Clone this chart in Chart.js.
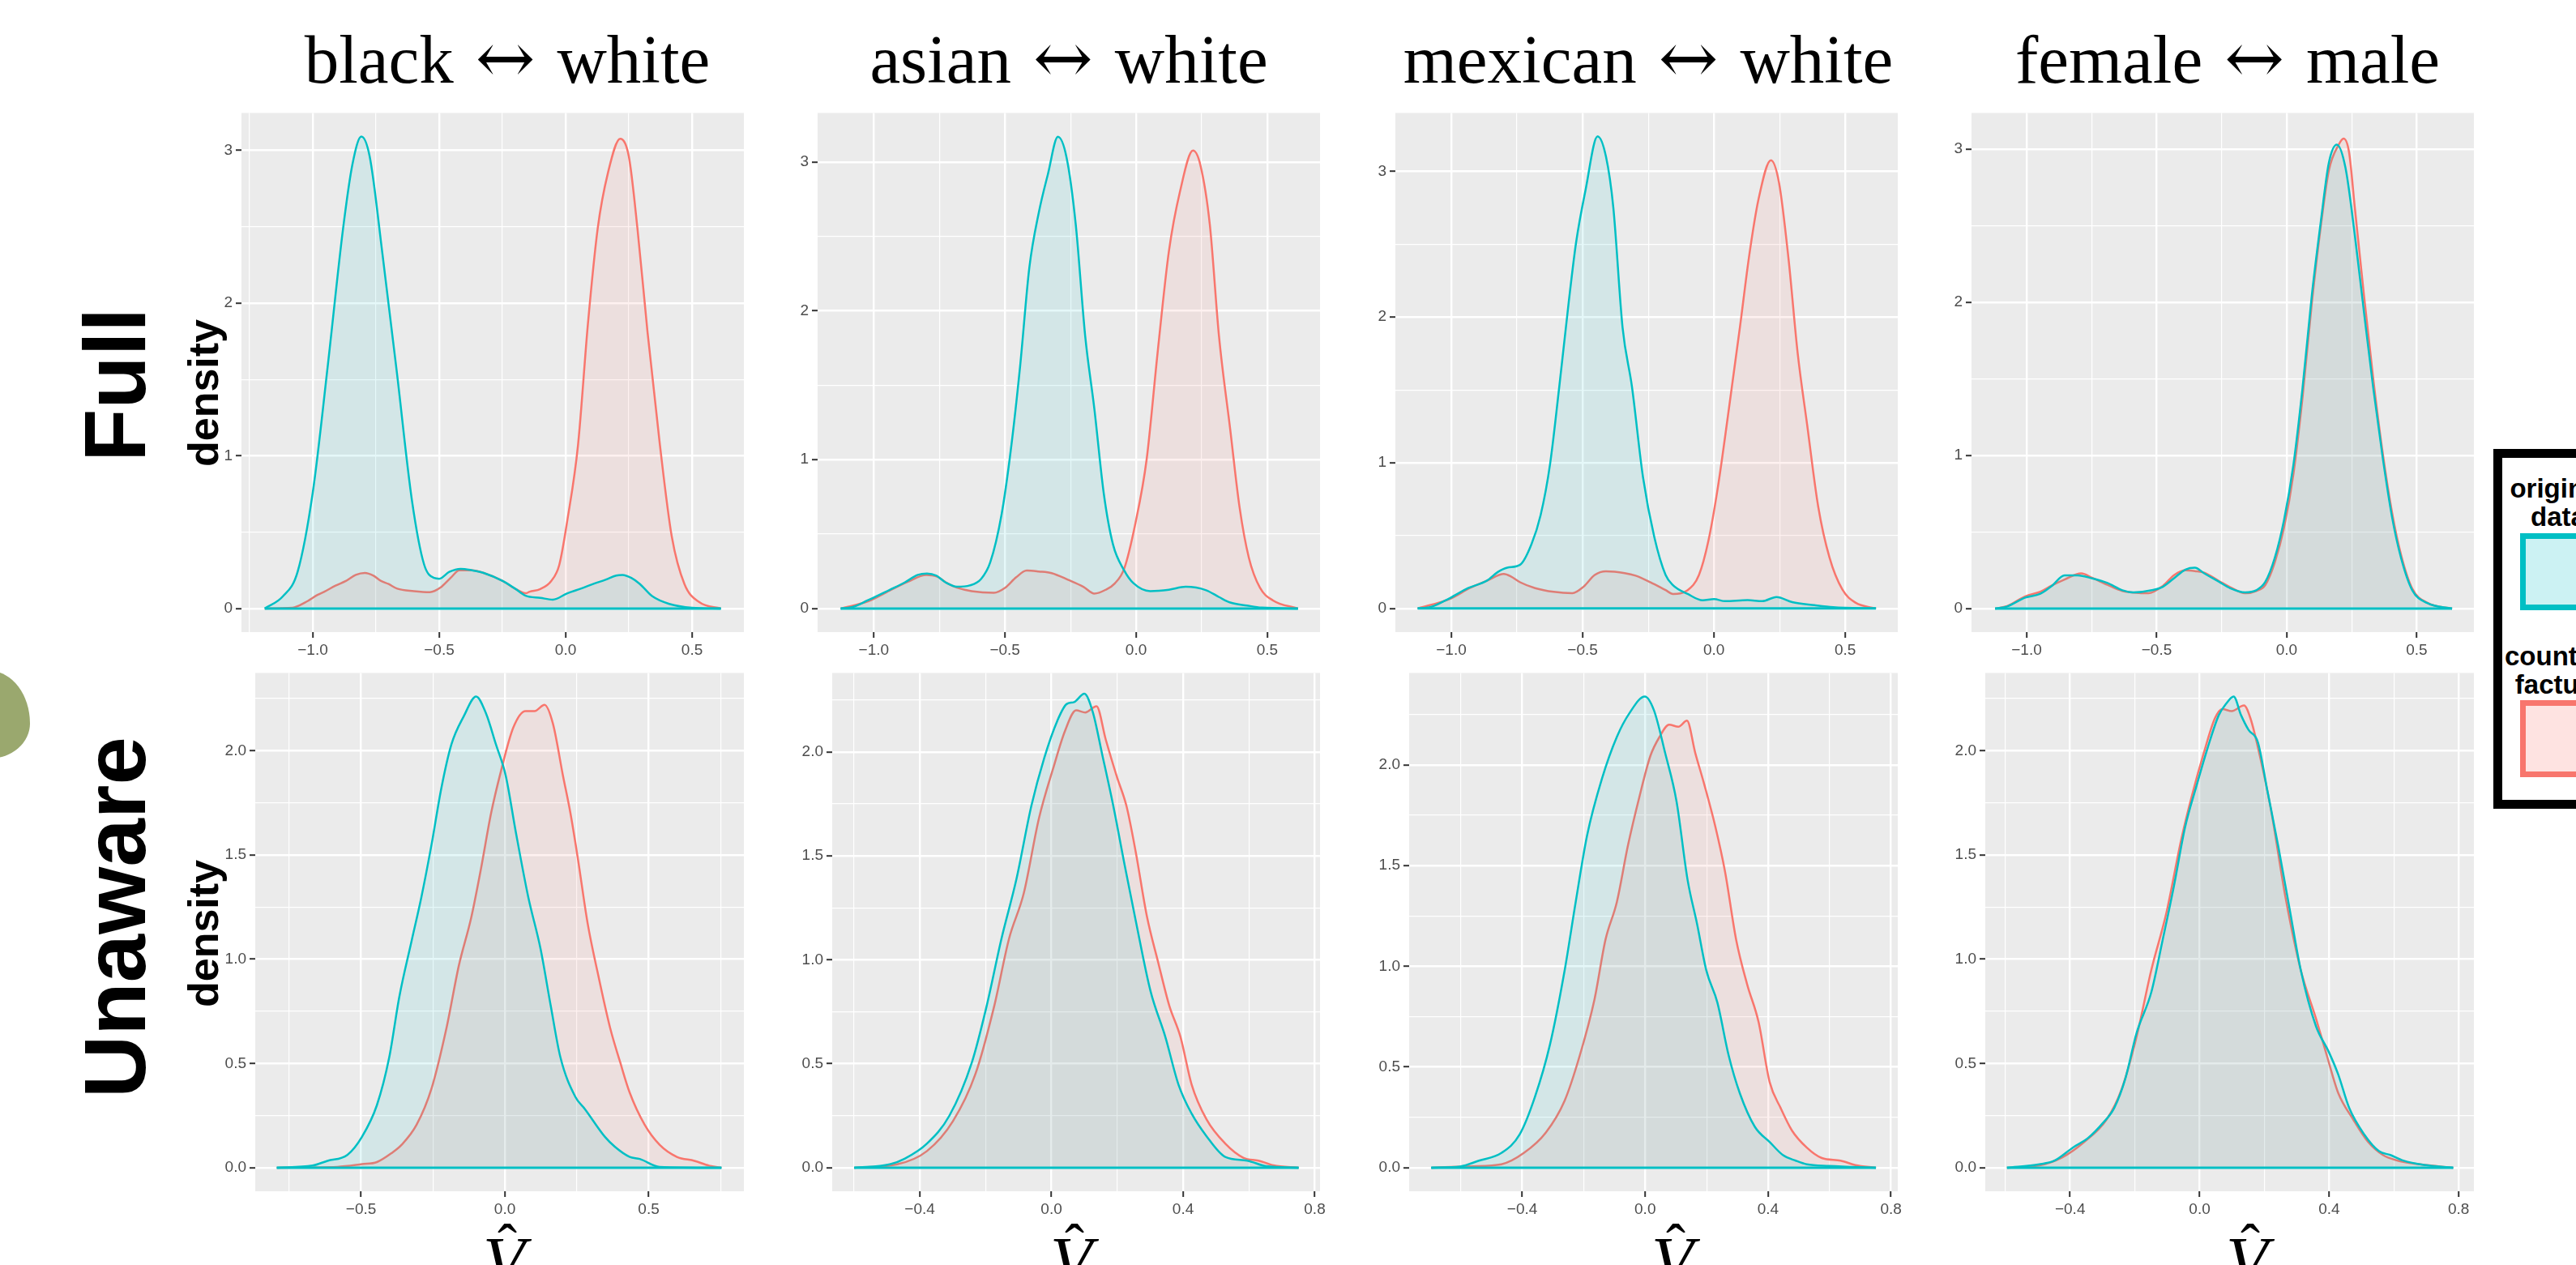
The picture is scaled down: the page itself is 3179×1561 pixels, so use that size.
<!DOCTYPE html>
<html>
<head>
<meta charset="utf-8">
<script src="https://cdn.jsdelivr.net/npm/chart.js@4.4.1/dist/chart.umd.min.js"></script>
<style>
  html, body { margin: 0; padding: 0; background: #fff; }
  body { width: 3179px; height: 1561px; position: relative; overflow: hidden; font-family: "Liberation Sans", Arial, sans-serif; }
  canvas { position: absolute; }
  .title { position: absolute; top: 31px; font-family: "Liberation Serif", serif; font-size: 85px; line-height: 1; white-space: nowrap; transform: translateX(-50%); color: #000; }
  .title .arr { font-family: "DejaVu Serif", serif; font-size: 88px; line-height: 0; margin: 0 27px; }
  .rowlab { position: absolute; font-weight: bold; font-size: 107px; line-height: 1; white-space: nowrap; transform: translate(-50%, -50%) rotate(-90deg); color: #000; }
  .ylab { position: absolute; font-weight: bold; font-size: 52px; line-height: 1; white-space: nowrap; transform: translate(-50%, -50%) rotate(-90deg); color: #000; }
  .vhat { position: absolute; top: 1500px; width: 0; height: 100px; }
  .vhat .v { position: absolute; left: 0; top: 14px; transform: translateX(-50%); font-family: "Liberation Serif", serif; font-style: italic; font-size: 85px; line-height: 1; }
  .vhat .hat { position: absolute; left: 4px; top: 0; transform: translateX(-50%); font-family: "Liberation Serif", serif; font-size: 72px; line-height: 1; }
  #legend { position: absolute; left: 3077px; top: 554px; width: 200px; height: 422px; border: 11px solid #000; background: #fff; }
  #legend .lt { position: absolute; left: 69px; transform: translateX(-50%); text-align: center; font-weight: bold; font-size: 33px; line-height: 35px; white-space: nowrap; color: #000; }
  #legend .key { position: absolute; left: 22px; width: 80px; height: 81px; border: 7px solid; }
  #blob { position: absolute; left: -62px; top: 828px; width: 99px; height: 108px; border-radius: 50% 50% 50% 50% / 60% 60% 40% 40%; background: #9AA86E; }
</style>
</head>
<body>
<div id="blob"></div>

<div class="title" style="left:626px">black<span class="arr">↔</span>white</div>
<div class="title" style="left:1319px">asian<span class="arr">↔</span>white</div>
<div class="title" style="left:2034px">mexican<span class="arr">↔</span>white</div>
<div class="title" style="left:2749px">female<span class="arr">↔</span>male</div>

<div class="rowlab" style="left:142px; top:475px">Full</div>
<div class="rowlab" style="left:142px; top:1132px">Unaware</div>
<div class="ylab" style="left:251px; top:485px">density</div>
<div class="ylab" style="left:251px; top:1152px">density</div>

<div class="vhat" style="left:622px"><span class="hat">ˆ</span><span class="v">V</span></div>
<div class="vhat" style="left:1322px"><span class="hat">ˆ</span><span class="v">V</span></div>
<div class="vhat" style="left:2064px"><span class="hat">ˆ</span><span class="v">V</span></div>
<div class="vhat" style="left:2773px"><span class="hat">ˆ</span><span class="v">V</span></div>

<div id="legend">
  <div class="lt" style="top:20px">original<br>data</div>
  <div class="key" style="top:93px; border-color:#00BFC4; background:#CCF2F3"></div>
  <div class="lt" style="top:227px">counter-<br>factual</div>
  <div class="key" style="top:299px; border-color:#F8766D; background:#FEE3E1"></div>
</div>

<canvas id="p11"></canvas><canvas id="p12"></canvas><canvas id="p13"></canvas><canvas id="p14"></canvas>
<canvas id="p21"></canvas><canvas id="p22"></canvas><canvas id="p23"></canvas><canvas id="p24"></canvas>

<script>
// tick values
const fullXMajor = [-1.0, -0.5, 0.0, 0.5];
const fullXMinor = [-1.25, -0.75, -0.25, 0.25];
const fullYMajor = [0, 1, 2, 3];
const fullYMinor = [0.5, 1.5, 2.5];
const unawareBlackXMajor = [-0.5, 0.0, 0.5];
const unawareBlackXMinor = [-0.75, -0.25, 0.25, 0.75];
const unawareXMajor = [-0.4, 0.0, 0.4, 0.8];
const unawareXMinor = [-0.6, -0.2, 0.2, 0.6];
const unawareYMajor = [0.0, 0.5, 1.0, 1.5, 2.0];
const unawareYMinor = [0.25, 0.75, 1.25, 1.75, 2.25];

// density curves [x, density]
const fullBlackOrig = [[-1.19,0],[-1.118,0.08],[-1.06,0.24],[-1.0,0.76],[-0.94,1.6],[-0.88,2.49],[-0.843,2.91],[-0.808,3.09],[-0.775,2.96],[-0.725,2.33],[-0.667,1.54],[-0.608,0.71],[-0.56,0.29],[-0.52,0.2],[-0.5,0.195],[-0.46,0.24],[-0.415,0.26],[-0.37,0.25],[-0.324,0.233],[-0.249,0.18],[-0.2,0.13],[-0.158,0.084],[-0.1,0.07],[-0.051,0.058],[0.007,0.1],[0.06,0.13],[0.113,0.163],[0.16,0.19],[0.2,0.216],[0.225,0.22],[0.26,0.2],[0.294,0.16],[0.343,0.08],[0.41,0.03],[0.5,0.005],[0.614,0]];
const fullBlackCf = [[-1.19,0],[-1.08,0.005],[-1.03,0.04],[-0.98,0.09],[-0.954,0.11],[-0.91,0.15],[-0.869,0.18],[-0.83,0.22],[-0.794,0.233],[-0.76,0.215],[-0.73,0.18],[-0.7,0.16],[-0.666,0.13],[-0.6,0.114],[-0.537,0.107],[-0.495,0.137],[-0.455,0.2],[-0.42,0.25],[-0.37,0.25],[-0.324,0.233],[-0.249,0.18],[-0.2,0.13],[-0.158,0.1],[-0.142,0.11],[-0.1,0.128],[-0.057,0.18],[-0.025,0.286],[0.007,0.58],[0.049,1.07],[0.088,1.86],[0.127,2.49],[0.167,2.85],[0.216,3.076],[0.25,2.96],[0.284,2.49],[0.324,1.81],[0.373,1.07],[0.42,0.47],[0.47,0.16],[0.53,0.04],[0.614,0]];
const fullAsianOrig = [[-1.126,0],[-1.08,0.01],[-1.024,0.054],[-0.939,0.126],[-0.882,0.175],[-0.832,0.226],[-0.797,0.235],[-0.761,0.22],[-0.726,0.175],[-0.683,0.146],[-0.634,0.155],[-0.591,0.198],[-0.556,0.31],[-0.513,0.63],[-0.478,1.06],[-0.442,1.63],[-0.407,2.29],[-0.371,2.66],[-0.336,2.92],[-0.298,3.17],[-0.265,3.03],[-0.23,2.58],[-0.194,1.83],[-0.159,1.34],[-0.123,0.77],[-0.088,0.43],[-0.045,0.255],[-0.01,0.17],[0.054,0.117],[0.125,0.126],[0.189,0.146],[0.267,0.123],[0.316,0.077],[0.359,0.04],[0.423,0.02],[0.479,0.006],[0.617,0]];
const fullAsianCf = [[-1.126,0],[-1.02,0.05],[-0.94,0.12],[-0.87,0.18],[-0.8,0.225],[-0.76,0.215],[-0.72,0.17],[-0.683,0.14],[-0.627,0.117],[-0.542,0.106],[-0.499,0.14],[-0.457,0.21],[-0.417,0.255],[-0.371,0.249],[-0.322,0.238],[-0.258,0.192],[-0.201,0.146],[-0.159,0.1],[-0.116,0.126],[-0.081,0.169],[-0.045,0.27],[-0.003,0.57],[0.04,1.0],[0.082,1.72],[0.125,2.4],[0.167,2.8],[0.217,3.077],[0.245,2.98],[0.281,2.58],[0.316,1.83],[0.359,1.2],[0.394,0.685],[0.43,0.34],[0.472,0.14],[0.522,0.054],[0.617,0]];
const fullMexOrig = [[-1.128,0],[-1.078,0.01],[-1.007,0.07],[-0.936,0.14],[-0.865,0.19],[-0.823,0.25],[-0.787,0.28],[-0.738,0.3],[-0.695,0.44],[-0.66,0.64],[-0.624,0.99],[-0.589,1.52],[-0.553,2.1],[-0.525,2.51],[-0.489,2.87],[-0.443,3.24],[-0.411,3.1],[-0.383,2.75],[-0.348,1.93],[-0.312,1.52],[-0.27,0.9],[-0.227,0.49],[-0.184,0.23],[-0.156,0.16],[-0.1,0.1],[-0.043,0.056],[0,0.064],[0.043,0.05],[0.128,0.058],[0.184,0.05],[0.238,0.079],[0.298,0.044],[0.383,0.023],[0.454,0.009],[0.617,0]];
const fullMexCf = [[-1.128,0],[-1.0,0.07],[-0.93,0.14],[-0.865,0.19],[-0.8,0.237],[-0.773,0.22],[-0.738,0.18],[-0.681,0.14],[-0.61,0.114],[-0.539,0.105],[-0.496,0.15],[-0.454,0.23],[-0.411,0.255],[-0.34,0.243],[-0.298,0.225],[-0.241,0.179],[-0.184,0.126],[-0.156,0.1],[-0.1,0.126],[-0.057,0.23],[-0.021,0.465],[0.014,0.82],[0.057,1.37],[0.099,1.93],[0.135,2.43],[0.17,2.81],[0.217,3.076],[0.248,2.92],[0.284,2.4],[0.319,1.75],[0.355,1.26],[0.397,0.7],[0.44,0.35],[0.489,0.13],[0.539,0.04],[0.617,0]];
const fullSexOrig = [[-1.121,0],[-1.075,0.014],[-1.005,0.072],[-0.947,0.097],[-0.904,0.147],[-0.854,0.217],[-0.804,0.217],[-0.747,0.197],[-0.689,0.167],[-0.632,0.12],[-0.589,0.106],[-0.518,0.12],[-0.475,0.144],[-0.432,0.2],[-0.389,0.255],[-0.353,0.267],[-0.317,0.23],[-0.26,0.175],[-0.217,0.133],[-0.16,0.106],[-0.117,0.12],[-0.082,0.175],[-0.046,0.33],[-0.01,0.58],[0.026,0.94],[0.061,1.44],[0.097,2.05],[0.133,2.55],[0.162,2.91],[0.193,3.03],[0.226,2.88],[0.262,2.44],[0.297,1.94],[0.333,1.44],[0.369,0.99],[0.405,0.6],[0.44,0.33],[0.483,0.12],[0.541,0.036],[0.636,0]];
const fullSexCf = [[-1.121,0],[-1.075,0.016],[-1.005,0.08],[-0.947,0.11],[-0.904,0.15],[-0.854,0.19],[-0.79,0.23],[-0.747,0.2],[-0.689,0.155],[-0.632,0.115],[-0.589,0.105],[-0.532,0.1],[-0.475,0.15],[-0.432,0.22],[-0.389,0.25],[-0.353,0.245],[-0.317,0.235],[-0.26,0.18],[-0.217,0.14],[-0.16,0.1],[-0.117,0.115],[-0.082,0.155],[-0.046,0.3],[-0.01,0.53],[0.026,0.88],[0.061,1.38],[0.097,2.0],[0.133,2.52],[0.162,2.86],[0.2,3.03],[0.219,3.07],[0.24,2.98],[0.262,2.62],[0.297,2.05],[0.333,1.5],[0.369,1.02],[0.405,0.63],[0.44,0.35],[0.483,0.13],[0.541,0.038],[0.636,0]];

const unawareBlackOrig = [[-0.793,0],[-0.669,0.01],[-0.617,0.033],[-0.548,0.061],[-0.497,0.148],[-0.445,0.3],[-0.402,0.53],[-0.367,0.82],[-0.324,1.09],[-0.29,1.3],[-0.255,1.55],[-0.221,1.82],[-0.186,2.03],[-0.143,2.165],[-0.1,2.26],[-0.066,2.18],[-0.031,2.03],[0.003,1.88],[0.038,1.61],[0.081,1.3],[0.124,1.05],[0.159,0.78],[0.193,0.53],[0.245,0.34],[0.279,0.28],[0.348,0.148],[0.383,0.1],[0.434,0.052],[0.469,0.042],[0.538,0.004],[0.753,0]];
const unawareBlackCf = [[-0.793,0],[-0.583,0.004],[-0.497,0.017],[-0.445,0.027],[-0.393,0.071],[-0.359,0.11],[-0.307,0.206],[-0.255,0.38],[-0.203,0.67],[-0.16,0.97],[-0.117,1.2],[-0.083,1.435],[-0.048,1.7],[-0.014,1.9],[0.029,2.11],[0.072,2.19],[0.103,2.19],[0.138,2.22],[0.167,2.13],[0.202,1.88],[0.228,1.7],[0.253,1.49],[0.288,1.17],[0.322,0.94],[0.366,0.67],[0.4,0.51],[0.434,0.36],[0.486,0.206],[0.538,0.11],[0.598,0.052],[0.659,0.033],[0.71,0.01],[0.753,0]];
const unawareAsianOrig = [[-0.599,0],[-0.491,0.016],[-0.446,0.043],[-0.378,0.116],[-0.31,0.25],[-0.242,0.505],[-0.197,0.776],[-0.152,1.1],[-0.106,1.39],[-0.061,1.74],[-0.022,1.97],[0.018,2.15],[0.046,2.23],[0.069,2.24],[0.1,2.28],[0.126,2.19],[0.154,1.99],[0.188,1.74],[0.222,1.46],[0.256,1.19],[0.301,0.85],[0.346,0.63],[0.386,0.4],[0.426,0.26],[0.471,0.152],[0.528,0.052],[0.595,0.034],[0.652,0.007],[0.751,0]];
const unawareAsianCf = [[-0.599,0],[-0.469,0.016],[-0.378,0.08],[-0.299,0.224],[-0.231,0.45],[-0.174,0.776],[-0.129,1.1],[-0.084,1.32],[-0.038,1.68],[0.007,1.93],[0.041,2.1],[0.075,2.2],[0.103,2.19],[0.137,2.22],[0.165,2.06],[0.199,1.88],[0.228,1.74],[0.256,1.52],[0.29,1.21],[0.324,0.99],[0.358,0.78],[0.392,0.63],[0.426,0.4],[0.471,0.233],[0.528,0.116],[0.584,0.047],[0.629,0.034],[0.675,0.011],[0.751,0]];
const unawareMexOrig = [[-0.696,0],[-0.602,0.006],[-0.541,0.035],[-0.468,0.073],[-0.408,0.166],[-0.359,0.35],[-0.31,0.61],[-0.262,0.98],[-0.226,1.32],[-0.189,1.65],[-0.141,1.93],[-0.092,2.14],[-0.05,2.26],[-0.001,2.34],[0.029,2.27],[0.065,2.06],[0.102,1.82],[0.138,1.43],[0.169,1.21],[0.199,0.98],[0.235,0.82],[0.272,0.556],[0.308,0.37],[0.357,0.203],[0.405,0.128],[0.448,0.063],[0.49,0.035],[0.526,0.017],[0.599,0.009],[0.751,0]];
const unawareMexCf = [[-0.696,0],[-0.565,0.007],[-0.468,0.017],[-0.395,0.073],[-0.323,0.175],[-0.262,0.333],[-0.213,0.556],[-0.165,0.835],[-0.129,1.133],[-0.092,1.32],[-0.056,1.6],[-0.019,1.84],[0.017,2.045],[0.047,2.14],[0.078,2.2],[0.108,2.19],[0.136,2.22],[0.163,2.06],[0.193,1.9],[0.229,1.69],[0.26,1.47],[0.296,1.133],[0.332,0.91],[0.369,0.724],[0.405,0.426],[0.441,0.296],[0.478,0.184],[0.526,0.1],[0.575,0.048],[0.636,0.035],[0.684,0.013],[0.751,0]];
const unawareSexOrig = [[-0.595,0],[-0.495,0.016],[-0.448,0.034],[-0.391,0.097],[-0.345,0.142],[-0.299,0.214],[-0.264,0.286],[-0.229,0.43],[-0.195,0.645],[-0.149,0.843],[-0.114,1.094],[-0.08,1.346],[-0.045,1.633],[-0.01,1.83],[0.024,2.01],[0.059,2.17],[0.082,2.226],[0.105,2.26],[0.128,2.17],[0.151,2.1],[0.18,2.04],[0.209,1.81],[0.243,1.54],[0.278,1.24],[0.312,0.95],[0.359,0.68],[0.399,0.555],[0.428,0.447],[0.462,0.286],[0.508,0.16],[0.554,0.079],[0.589,0.061],[0.629,0.034],[0.693,0.013],[0.783,0]];
const unawareSexCf = [[-0.595,0],[-0.495,0.011],[-0.425,0.049],[-0.356,0.124],[-0.287,0.232],[-0.241,0.376],[-0.195,0.627],[-0.149,0.95],[-0.103,1.22],[-0.056,1.58],[-0.022,1.795],[0.013,1.99],[0.047,2.155],[0.07,2.2],[0.099,2.19],[0.137,2.217],[0.157,2.155],[0.186,1.975],[0.22,1.72],[0.266,1.29],[0.312,0.95],[0.359,0.717],[0.393,0.537],[0.428,0.358],[0.474,0.232],[0.52,0.124],[0.566,0.061],[0.612,0.034],[0.681,0.016],[0.783,0]];

const ORIG = '#00BFC4';
const CF = '#F8766D';
const Y_AXIS_W = 70, X_AXIS_H = 50, PAD_T = 10, PAD_R = 30;

// panel boxes: left, top, right, bottom of the grey area
const panels = [
  { id: 'p11', orig: fullBlackOrig, cf: fullBlackCf, box: [298, 134, 918, 780], xr: [-1.282, 0.705], yr: [-0.1545, 3.245], xt: [fullXMajor, fullXMinor, 1], yt: [fullYMajor, fullYMinor, 0] },
  { id: 'p12', orig: fullAsianOrig, cf: fullAsianCf, box: [1009, 134, 1629, 780], xr: [-1.214, 0.701], yr: [-0.1585, 3.33], xt: [fullXMajor, fullXMinor, 1], yt: [fullYMajor, fullYMinor, 0] },
  { id: 'p13', orig: fullMexOrig, cf: fullMexCf, box: [1722, 134, 2342, 780], xr: [-1.213, 0.70], yr: [-0.162, 3.40], xt: [fullXMajor, fullXMinor, 1], yt: [fullYMajor, fullYMinor, 0] },
  { id: 'p14', orig: fullSexOrig, cf: fullSexCf, box: [2433, 134, 3053, 780], xr: [-1.212, 0.72], yr: [-0.1535, 3.237], xt: [fullXMajor, fullXMinor, 1], yt: [fullYMajor, fullYMinor, 0] },
  { id: 'p21', orig: unawareBlackOrig, cf: unawareBlackCf, box: [315, 825, 918, 1470], xr: [-0.868, 0.831], yr: [-0.113, 2.373], xt: [unawareBlackXMajor, unawareBlackXMinor, 1], yt: [unawareYMajor, unawareYMinor, 1] },
  { id: 'p22', orig: unawareAsianOrig, cf: unawareAsianCf, box: [1027, 825, 1629, 1470], xr: [-0.666, 0.816], yr: [-0.1135, 2.38], xt: [unawareXMajor, unawareXMinor, 1], yt: [unawareYMajor, unawareYMinor, 1] },
  { id: 'p23', orig: unawareMexOrig, cf: unawareMexCf, box: [1739, 825, 2342, 1470], xr: [-0.768, 0.822], yr: [-0.117, 2.457], xt: [unawareXMajor, unawareXMinor, 1], yt: [unawareYMajor, unawareYMinor, 1] },
  { id: 'p24', orig: unawareSexOrig, cf: unawareSexCf, box: [2450, 825, 3053, 1470], xr: [-0.662, 0.847], yr: [-0.113, 2.373], xt: [unawareXMajor, unawareXMinor, 1], yt: [unawareYMajor, unawareYMinor, 1] }
];

const panelBg = {
  id: 'panelBg',
  beforeDraw(chart) {
    const a = chart.chartArea, c = chart.ctx;
    c.save();
    c.fillStyle = '#EBEBEB';
    c.fillRect(a.left, a.top, a.right - a.left, a.bottom - a.top);
    c.restore();
  }
};

function fmt(v, d) {
  return (v < -1e-9 ? '\u2212' : '') + Math.abs(v).toFixed(d);
}

function axis(range, ticks, isX) {
  const major = ticks[0], minor = ticks[1], dec = ticks[2];
  return {
    type: 'linear',
    bounds: 'data',
    min: range[0],
    max: range[1],
    border: { display: false },
    afterBuildTicks: (s) => {
      const all = major.map(v => ({ value: v, minor: false }))
        .concat(minor.filter(v => v > range[0] && v < range[1]).map(v => ({ value: v, minor: true })));
      all.sort((a, b) => a.value - b.value);
      s.ticks = all;
    },
    afterFit: (s) => {
      if (isX) s.height = X_AXIS_H; else s.width = Y_AXIS_W;
    },
    grid: {
      color: '#FFFFFF',
      lineWidth: (ctx) => (ctx.tick && ctx.tick.minor ? 1.2 : 2.4),
      tickColor: (ctx) => (ctx.tick && ctx.tick.minor ? 'rgba(0,0,0,0)' : '#333333'),
      tickWidth: 2,
      tickLength: 7
    },
    ticks: {
      autoSkip: false,
      maxRotation: 0,
      padding: 4,
      color: '#4D4D4D',
      font: { family: "'Liberation Sans', Arial, sans-serif", size: 19 },
      callback: (v) => (major.some(m => Math.abs(m - v) < 1e-9) ? fmt(v, dec) : '')
    }
  };
}

function toPts(arr) {
  return arr.map(p => ({ x: p[0], y: p[1] }));
}

panels.forEach((p) => {
  const [l, t, r, b] = p.box;
  const cv = document.getElementById(p.id);
  cv.width = Y_AXIS_W + (r - l) + PAD_R;
  cv.height = PAD_T + (b - t) + X_AXIS_H;
  cv.style.left = (l - Y_AXIS_W) + 'px';
  cv.style.top = (t - PAD_T) + 'px';

  const x0 = Math.min(p.orig[0][0], p.cf[0][0]);
  const x1 = Math.max(p.orig[p.orig.length - 1][0], p.cf[p.cf.length - 1][0]);

  new Chart(cv.getContext('2d'), {
    type: 'line',
    data: {
      datasets: [
        { data: [{ x: x0, y: 0 }, { x: x1, y: 0 }], borderColor: ORIG, borderWidth: 3, fill: false, pointRadius: 0 },
        { data: toPts(p.orig), borderColor: ORIG, backgroundColor: 'rgba(0,191,196,0.1)', borderWidth: 2.5, fill: 'origin', pointRadius: 0, cubicInterpolationMode: 'monotone' },
        { data: toPts(p.cf), borderColor: CF, backgroundColor: 'rgba(248,118,109,0.1)', borderWidth: 2.5, fill: 'origin', pointRadius: 0, cubicInterpolationMode: 'monotone' }
      ]
    },
    options: {
      responsive: false,
      animation: false,
      devicePixelRatio: 1,
      layout: { padding: { left: 0, top: PAD_T, right: PAD_R, bottom: 0 } },
      plugins: { legend: { display: false }, tooltip: { enabled: false } },
      scales: {
        x: axis(p.xr, p.xt, true),
        y: axis(p.yr, p.yt, false)
      }
    },
    plugins: [panelBg]
  });
});
</script>
</body>
</html>
